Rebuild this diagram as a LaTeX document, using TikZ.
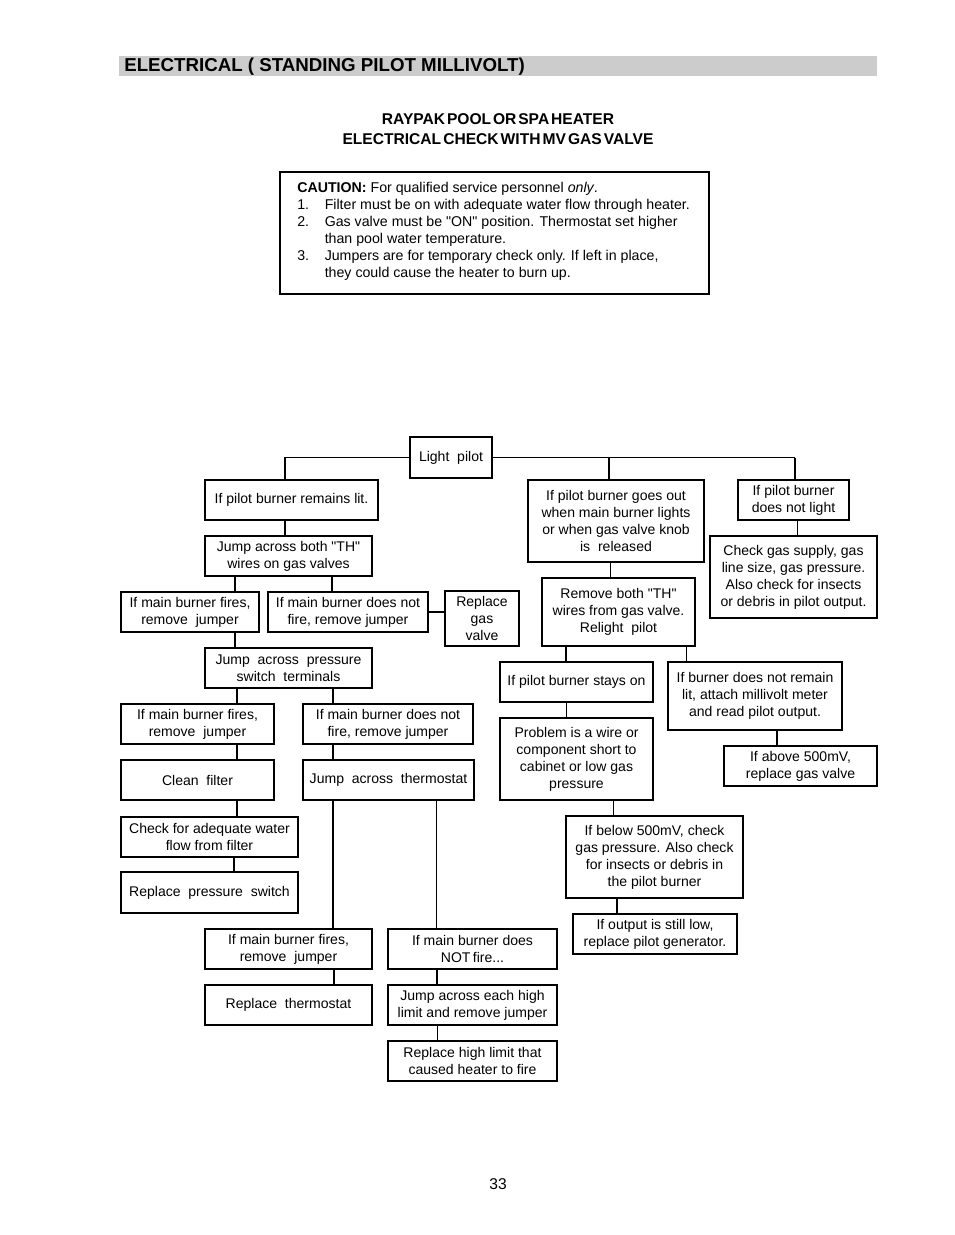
\documentclass[tikz,border=0pt]{standalone}
\usepackage{fontspec}
\setmainfont{Liberation Sans}[Ligatures=TeXOff]
\usetikzlibrary{shadows}
\newcommand\dq{\char34\relax}
\newcommand\bx[7][]{%
  \node[box,#1,minimum width={(#5-#3)*0.6414pt},minimum height={(#6-#4)*0.6414pt}]
    (#2) at ({(#3+#5)/2},{(#4+#6)/2}) {#7};}
\begin{document}
\begin{tikzpicture}[x=0.6414pt,y=-0.6414pt,
  box/.style={draw,fill=white,line width=0.75pt,inner sep=0pt,outer sep=0pt,
    align=center,font=\fontsize{9}{10.9}\selectfont},
  sh/.style={drop shadow={shadow xshift=0.7pt,shadow yshift=-0.7pt,fill=black,opacity=1}},
  ln/.style={line width=0.65pt},
  tk/.style={line width=1.3pt}]
\useasboundingbox (0,0) rectangle (954,1235);
% title bar
\fill[black!20] (119,56) rectangle (877,76);
\node[anchor=west,inner sep=0pt,font=\bfseries\fontsize{12}{14}\selectfont] (title) at (124,67)
  {ELECTRICAL ( STANDING PILOT MILLIVOLT)};
\node[align=center,inner sep=0pt,font=\bfseries\fontsize{10}{12}\selectfont] (sub) at (498,129)
  {RAYPAK\hspace{1.2pt}POOL\hspace{1.2pt}OR\hspace{1.2pt}SPA\hspace{1.2pt}HEATER\\[0.8pt]
   ELECTRICAL\hspace{1.3pt}CHECK\hspace{1.3pt}WITH\hspace{1.3pt}MV\hspace{1.3pt}GAS\hspace{1.3pt}VALVE};
% caution box
\draw[line width=0.9pt] (280,172) rectangle (709,294);
\node[anchor=north west,inner sep=0pt,align=left,font=\fontsize{9.1}{10.9}\selectfont] (caution) at (297,182)
  {\textbf{CAUTION:} For qualified service personnel \emph{only}.\\
   \makebox[17.6pt][l]{1.}Filter must be on with adequate water flow through heater.\\
   \makebox[17.6pt][l]{2.}Gas valve must be \dq ON\dq\ position. Thermostat set higher\\
   \hspace*{17.6pt}than pool water temperature.\\
   \makebox[17.6pt][l]{3.}Jumpers are for temporary check only. If left in place,\\
   \hspace*{17.6pt}they could cause the heater to burn up.};
% boxes
\bx[sh]{lp}{410}{437}{492}{478}{Light\ \ pilot}
\bx[sh]{n2}{205}{480}{378}{520}{If pilot burner remains lit.}
\bx{n3}{205}{536}{372}{576}{Jump across both \dq TH\dq\\wires on gas valves}
\bx[sh]{n4}{121}{592}{259}{632}{If main burner fires,\\remove\ \ jumper}
\bx[sh]{n5}{268}{592}{428}{632}{If main burner does not\\fire, remove jumper}
\bx[sh]{n6}{445}{591}{519}{646}{Replace\\gas\\valve}
\bx{n7}{205}{648}{372}{688}{Jump\ \ across\ \ pressure\\switch\ \ terminals}
\bx{n8}{121}{704}{274}{744}{If main burner fires,\\remove\ \ jumper}
\bx{n9}{303}{704}{473}{744}{If main burner does not\\fire, remove jumper}
\bx[sh]{n10}{121}{760}{274}{800}{Clean\ \ filter}
\bx{n11}{303}{760}{474}{800}{Jump\ \ across\ \ thermostat}
\bx[sh]{n12}{121}{817}{298}{857}{Check for adequate water\\flow from filter}
\bx[sh]{n13}{121}{872}{298}{913}{Replace\ \ pressure\ \ switch}
\bx{n14}{205}{929}{372}{969}{If main burner fires,\\remove\ \ jumper}
\bx[sh]{n15}{388}{929}{557}{969}{If main burner does\\NOT\,fire...}
\bx{n16}{205}{985}{372}{1025}{Replace\ \ thermostat}
\bx{n17}{388}{985}{557}{1025}{Jump across each high\\limit and remove jumper}
\bx{n18}{388}{1041}{557}{1081}{Replace high limit that\\caused heater to fire}
\bx[sh]{n19}{528}{480}{704}{562}{If pilot burner goes out\\when main burner lights\\or when gas valve knob\\is\ \ released}
\bx[sh]{n20}{738}{480}{849}{520}{If pilot burner\\does not light}
\bx{n21}{710}{536}{877}{618}{Check gas supply, gas\\line size, gas pressure.\\Also check for insects\\or debris in pilot output.}
\bx{n22}{542}{578}{695}{646}{Remove both \dq TH\dq\\wires from gas valve.\\Relight\ \ pilot}
\bx[sh]{n23}{500}{662}{653}{702}{If pilot burner stays on}
\bx[sh]{n24}{668}{662}{842}{730}{If burner does not remain\\lit, attach millivolt meter\\and read pilot output.}
\bx[sh]{n25}{724}{746}{877}{786}{If above 500mV,\\replace gas valve}
\bx[sh]{n26}{500}{718}{653}{800}{Problem is a wire or\\component short to\\cabinet or low gas\\pressure}
\bx{n27}{566}{816}{743}{898}{If below 500mV, check\\gas pressure. Also check\\for insects or debris in\\the pilot burner}
\bx[sh]{n28}{573}{914}{737}{954}{If output is still low,\\replace pilot generator.}
% connectors, left
\draw[ln] (lp.west) -| (n2.north -| 285,0);
\draw[ln] (n2.south -| 285,0) -- (n3.north -| 285,0);
\draw[ln] (n3.south -| 235,0) -- (n4.north -| 235,0);
\draw[tk] (n3.south -| 332,0) -- (n5.north -| 332,0);
\draw[tk] (n5.east) -- (n6.west |- n5.east);
\draw[ln] (n4.south -| 235,0) -- (n7.north -| 235,0);
\draw[ln] (n7.south -| 237,0) -- (n8.north -| 237,0);
\draw[tk] (n7.south -| 333,0) -- (n9.north -| 333,0);
\draw[tk] (n8.south -| 237,0) -- (n10.north -| 237,0);
\draw[ln] (n9.south -| 333,0) -- (n11.north -| 333,0);
\draw[tk] (n10.south -| 237,0) -- (n12.north -| 237,0);
\draw[tk] (n12.south -| 234,0) -- (n13.north -| 234,0);
\draw[ln] (n11.south -| 333,0) -- (n14.north -| 333,0);
\draw[ln] (n11.south -| 436,0) -- (n15.north -| 436,0);
\draw[tk] (n14.south -| 334,0) -- (n16.north -| 334,0);
\draw[tk] (n15.south -| 437,0) -- (n17.north -| 437,0);
\draw[ln] (n17.south -| 437,0) -- (n18.north -| 437,0);
% connectors, right
\draw[ln] (lp.east) -- (lp.east -| 795,0);
\draw[tk] (lp.east -| 609,0) -- (n19.north -| 609,0);
\draw[tk] (lp.east -| 795,0) -- (n20.north -| 795,0);
\draw[ln] (n19.south -| 610,0) -- (n22.north -| 610,0);
\draw[ln] (n20.south -| 797,0) -- (n21.north -| 797,0);
\draw[tk] (n22.south -| 566,0) -- (n23.north -| 566,0);
\draw[ln] (n22.south -| 686,0) -- (n24.north -| 686,0);
\draw[ln] (n23.south -| 566,0) -- (n26.north -| 566,0);
\draw[tk] (n24.south -| 777,0) -- (n25.north -| 777,0);
\draw[ln] (n26.south -| 613,0) -- (n27.north -| 613,0);
\draw[tk] (n27.south -| 617,0) -- (n28.north -| 617,0);
% page number
\node[inner sep=0pt,font=\fontsize{10}{12}\selectfont] (pg) at (498,1184) {33};
\end{tikzpicture}
\end{document}
